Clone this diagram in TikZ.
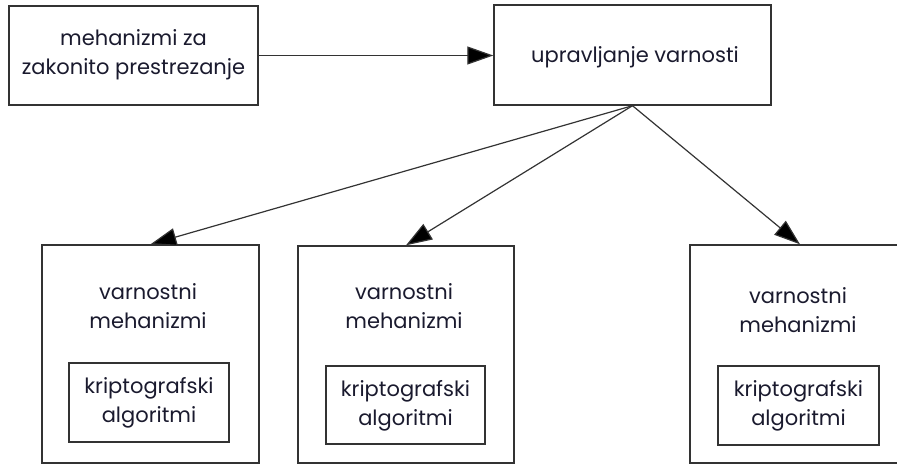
\documentclass[tikz,border=0pt]{standalone}
\usepackage{fontspec}
\setmainfont{Poppins}
\usetikzlibrary{arrows.meta}
\definecolor{edge}{HTML}{333333}
\definecolor{ink}{HTML}{1A1A2E}
\tikzset{
  box/.style={draw=edge, line width=1.4pt, rectangle, inner sep=0pt},
  lbl/.style={align=center, text=ink, font=\fontsize{21}{29}\selectfont, inner sep=0pt},
  arr/.style={draw=edge, line width=1.2pt, -{Triangle[length=26pt, width=18pt, fill=black]}}
}
\begin{document}
\begin{tikzpicture}[x=1pt, y=-1pt]
  \useasboundingbox (0,0) rectangle (897,465);
  % top row
  \node[box, minimum width=249pt, minimum height=99pt] (A) at (133.5,55.5) {};
  \node[lbl] (tA) at (133.5,55) {mehanizmi za\\zakonito prestrezanje};
  \node[box, minimum width=277pt, minimum height=100pt] (B) at (632.5,55) {};
  \node[lbl] (tB) at (635,57) {upravljanje varnosti};
  % security mechanism blocks
  \node[box, minimum width=217pt, minimum height=218pt] (C1) at (150.5,354) {};
  \node[box, minimum width=216pt, minimum height=217pt] (C2) at (406,354.5) {};
  \node[box, minimum width=220pt, minimum height=218pt] (C3) at (800,354) {};
  \node[lbl] (t1) at (148,306) {varnostni\\mehanizmi};
  \node[lbl] (t2) at (404,306) {varnostni\\mehanizmi};
  \node[lbl] (t3) at (798,310) {varnostni\\mehanizmi};
  % cryptographic algorithm blocks
  \node[box, minimum width=160pt, minimum height=79pt] (I1) at (149,402.5) {};
  \node[box, minimum width=159pt, minimum height=78pt] (I2) at (405.5,405) {};
  \node[box, minimum width=161pt, minimum height=79pt] (I3) at (798.5,405.5) {};
  \node[lbl] (k1) at (149,403) {kriptografski\\algoritmi};
  \node[lbl] (k2) at (405.5,405.5) {kriptografski\\algoritmi};
  \node[lbl] (k3) at (798.5,406) {kriptografski\\algoritmi};
  % connectors
  \draw[arr] (A.east) -- (A.east -| B.west);
  \draw[arr] (B.south) -- (C1.north);
  \draw[arr] (B.south) -- (C2.north);
  \draw[arr] (B.south) -- (C3.north);
\end{tikzpicture}
\end{document}
